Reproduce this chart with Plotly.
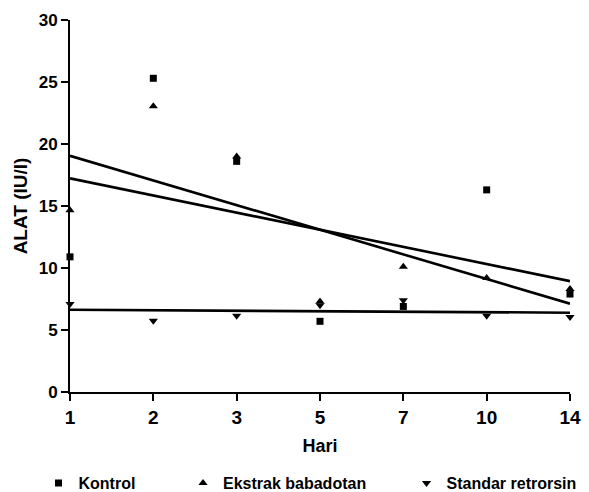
import numpy as np
import plotly.graph_objects as go

days = ["1", "2", "3", "5", "7", "10", "14"]
kontrol = [10.9, 25.3, 18.6, 5.7, 6.9, 16.3, 7.9]
ekstrak = [14.65, 23.05, 19.0, 7.3, 10.1, 9.2, 8.3]
standar = [7.1, 5.75, 6.15, 7.0, 7.4, 6.15, 6.05]
y_ticks = [0, 5, 10, 15, 20, 25, 30]

pos = np.arange(len(days))
FONT = "Liberation Sans, Arial, sans-serif"

series = [
    ("Kontrol", kontrol, "square", 7, "legend"),
    ("Ekstrak babadotan", ekstrak, "triangle-up", 8, "legend2"),
    ("Standar retrorsin", standar, "triangle-down", 8, "legend3"),
]

fig = go.Figure()
for name, vals, sym, sz, lg in series:
    fig.add_trace(go.Scatter(
        x=pos, y=vals, mode="markers", name="<b>" + name + "</b>", legend=lg,
        marker=dict(symbol=sym, size=sz, color="black"),
        cliponaxis=False,
    ))
for name, vals, sym, sz, lg in series:
    slope, icpt = np.polyfit(pos, vals, 1)
    xs = np.array([pos[0], pos[-1]])
    fig.add_trace(go.Scatter(
        x=xs, y=slope * xs + icpt, mode="lines", showlegend=False,
        line=dict(color="black", width=2.6), hoverinfo="skip",
    ))

legend_common = dict(orientation="h", yanchor="middle", y=-0.245,
                     xanchor="left", bgcolor="rgba(0,0,0,0)",
                     font=dict(family=FONT, size=16, color="black"),
                     itemsizing="trace")
fig.update_layout(
    width=589, height=492,
    margin=dict(l=70, r=19, t=20, b=100, autoexpand=False),
    paper_bgcolor="white", plot_bgcolor="white",
    font=dict(family=FONT, color="black"),
    legend=dict(x=-0.063, **legend_common),
    legend2=dict(x=0.226, **legend_common),
    legend3=dict(x=0.673, **legend_common),
    xaxis=dict(
        range=[0, 6], tickvals=list(pos), ticktext=days,
        showgrid=False, zeroline=False, automargin=False,
        showline=True, linecolor="black", linewidth=2,
        ticks="outside", ticklen=7, tickwidth=1.5, tickcolor="black",
        tickfont=dict(family=FONT, size=19, color="black", weight="bold"),
        title=dict(text="<b>Hari</b>", font=dict(family=FONT, size=18, color="black"),
                   standoff=13),
    ),
    yaxis=dict(
        range=[0, 30], tickvals=y_ticks,
        showgrid=False, zeroline=False, automargin=False,
        showline=True, linecolor="black", linewidth=2,
        ticks="outside", ticklen=7, tickwidth=1.5, tickcolor="black",
        tickfont=dict(family=FONT, size=17, color="black", weight="bold"),
        title=dict(text="<b>ALAT (IU/l)</b>", font=dict(family=FONT, size=19, color="black"),
                   standoff=6),
    ),
)

fig.write_html("out.html", config={"displayModeBar": False},
               post_script="document.body.style.margin='0';")
